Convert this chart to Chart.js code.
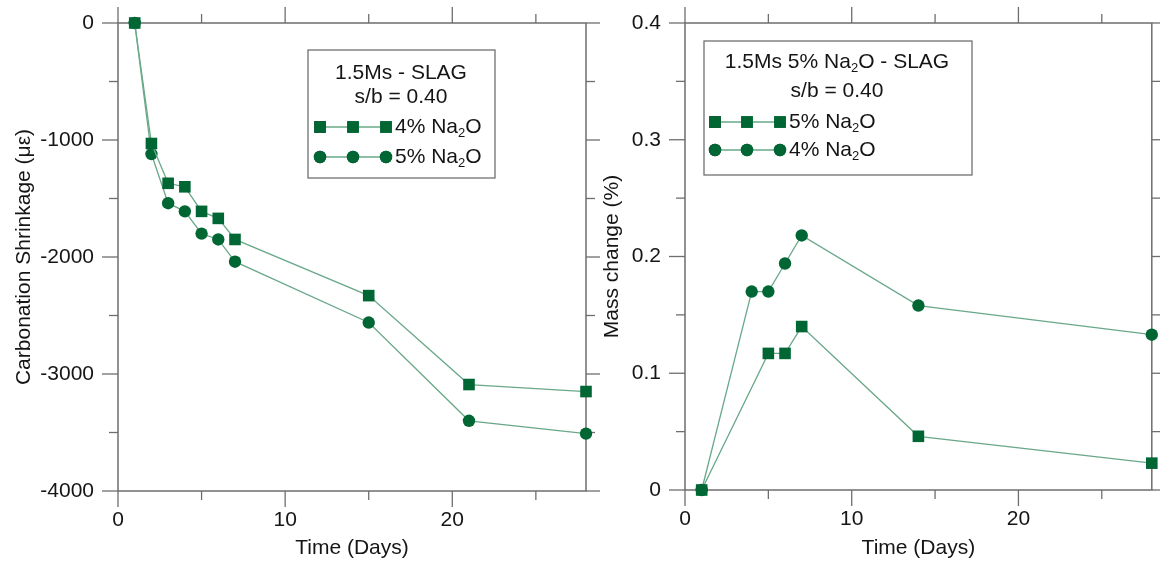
<!DOCTYPE html>
<html>
<head>
<meta charset="utf-8">
<script src="https://cdn.jsdelivr.net/npm/chart.js@4.4.1/dist/chart.umd.min.js"></script>
<style>
  html, body { margin: 0; padding: 0; background: #fff; }
  canvas { position: absolute; top: 0; }
  #shrink-chart { left: 0; }
  #mass-chart { left: 580px; }
</style>
</head>
<body>
<canvas id="shrink-chart" width="600" height="567"></canvas>
<canvas id="mass-chart" width="580" height="567"></canvas>
<script>
// Carbonation shrinkage (left panel)
const shrinkDays = [1, 2, 3, 4, 5, 6, 7, 15, 21, 28];
const shrink4 = [0, -1030, -1370, -1400, -1610, -1670, -1850, -2330, -3090, -3150];
const shrink5 = [0, -1120, -1540, -1610, -1800, -1850, -2040, -2560, -3400, -3510];

// Mass change (right panel)
const massDays5 = [1, 5, 6, 7, 14, 28];
const mass5 = [0, 0.117, 0.117, 0.140, 0.046, 0.023];
const massDays4 = [1, 4, 5, 6, 7, 14, 28];
const mass4 = [0, 0.170, 0.170, 0.194, 0.218, 0.158, 0.133];

// Legend text ("_2" means subscript 2)
const shrinkTitle = ['1.5Ms - SLAG', 's/b = 0.40'];
const shrinkLabels = ['4% Na_2O', '5% Na_2O'];
const massTitle = ['1.5Ms 5% Na_2O - SLAG', 's/b = 0.40'];
const massLabels = ['5% Na_2O', '4% Na_2O'];

const FONT = "'Liberation Sans', Arial, sans-serif";
const MARK = '#006633';
const LINE = '#6aa88a';
const AXIS = '#6e6e6e';
const TEXT = '#151515';

function toPoints(xs, ys) {
    return xs.map((x, i) => ({ x, y: ys[i] }));
}

// split "4% Na_2O" into normal / subscript pieces
function richParts(str) {
    const parts = [];
    str.split(/(_\d)/).forEach(p => {
        if (!p) return;
        if (p[0] === '_') parts.push({ t: p.slice(1), sub: true });
        else parts.push({ t: p, sub: false });
    });
    return parts;
}

function richWidth(ctx, str, size) {
    let w = 0;
    richParts(str).forEach(p => {
        ctx.font = (p.sub ? size * 0.62 : size) + 'px ' + FONT;
        w += ctx.measureText(p.t).width;
    });
    return w;
}

function drawRich(ctx, str, x, y, size) {
    ctx.textBaseline = 'middle';
    ctx.textAlign = 'left';
    richParts(str).forEach(p => {
        const s = p.sub ? size * 0.62 : size;
        ctx.font = s + 'px ' + FONT;
        ctx.fillText(p.t, x, p.sub ? y + size * 0.3 : y);
        x += ctx.measureText(p.t).width;
    });
}

// Frame round the plot area with outward ticks on all four sides
const framePlugin = {
    id: 'frame',
    beforeDatasetsDraw(chart, args, opts) {
        const { ctx, chartArea: a, scales: { x, y } } = chart;
        ctx.save();
        ctx.strokeStyle = AXIS;
        ctx.lineWidth = 1.5;
        ctx.strokeRect(a.left, a.top, a.right - a.left, a.bottom - a.top);
        ctx.lineWidth = 1.3;
        const line = (x1, y1, x2, y2) => {
            ctx.beginPath();
            ctx.moveTo(x1, y1);
            ctx.lineTo(x2, y2);
            ctx.stroke();
        };
        const isMajor = (v, major) => Math.abs(v / major - Math.round(v / major)) < 1e-6;

        let n = Math.round((x.max - x.min) / opts.xMinor);
        for (let i = 0; i <= n; i++) {
            const v = x.min + i * opts.xMinor;
            if (v > x.max + 1e-9) break;
            const px = x.getPixelForValue(v);
            const len = isMajor(v, opts.xMajor) ? 16 : 9;
            line(px, a.bottom, px, a.bottom + len);
            line(px, a.top, px, a.top - len);
        }
        n = Math.round((y.max - y.min) / opts.yMinor);
        for (let i = 0; i <= n; i++) {
            const v = y.min + i * opts.yMinor;
            const py = y.getPixelForValue(v);
            const len = isMajor(v, opts.yMajor) ? 16 : 9;
            line(a.left, py, a.left - len, py);
            line(a.right, py, a.right + len, py);
        }
        ctx.restore();
    }
};

// Boxed legend with title lines and marker samples
const boxLegendPlugin = {
    id: 'boxLegend',
    afterDraw(chart, args, opts) {
        const ctx = chart.ctx;
        const b = opts.box;
        ctx.save();
        ctx.fillStyle = '#fff';
        ctx.fillRect(b.x, b.y, b.w, b.h);
        ctx.strokeStyle = '#707070';
        ctx.lineWidth = 1.3;
        ctx.strokeRect(b.x, b.y, b.w, b.h);

        ctx.fillStyle = TEXT;
        opts.title.forEach((t, i) => {
            const w = richWidth(ctx, t, opts.size);
            drawRich(ctx, t, opts.cx - w / 2, opts.titleY[i], opts.size);
        });

        opts.labels.forEach((label, i) => {
            const ds = chart.data.datasets[i];
            const yy = opts.rowY[i];
            const xs = opts.markX;
            ctx.strokeStyle = LINE;
            ctx.lineWidth = 1.3;
            ctx.beginPath();
            ctx.moveTo(xs[0], yy);
            ctx.lineTo(xs[xs.length - 1], yy);
            ctx.stroke();
            xs.forEach(mx => {
                Chart.helpers.drawPoint(ctx, {
                    pointStyle: ds.pointStyle,
                    radius: ds.pointRadius,
                    rotation: 0,
                    borderWidth: 0
                }, mx, yy);
                ctx.fillStyle = MARK;
                ctx.fill();
            });
            ctx.fillStyle = TEXT;
            drawRich(ctx, label, opts.textX, yy, opts.size);
        });
        ctx.restore();
    }
};

function seriesStyle(style, radius) {
    return {
        showLine: true,
        tension: 0,
        borderColor: LINE,
        borderWidth: 1.3,
        pointStyle: style,
        pointRadius: radius,
        pointHoverRadius: radius,
        pointBackgroundColor: MARK,
        pointBorderWidth: 0,
        pointBorderColor: MARK,
        clip: false
    };
}

function axisFont() {
    return { family: FONT, size: 21 };
}

function makeChart(id, cfg) {
    return new Chart(document.getElementById(id), {
        type: 'scatter',
        data: { datasets: cfg.datasets },
        options: {
            responsive: false,
            animation: false,
            devicePixelRatio: 1,
            layout: { padding: { top: 23, right: cfg.padRight, left: 0, bottom: 0 } },
            plugins: {
                legend: { display: false },
                tooltip: { enabled: false },
                frame: cfg.frame,
                boxLegend: cfg.legend
            },
            scales: {
                x: {
                    type: 'linear',
                    min: 0,
                    max: 28,
                    afterFit: s => { s.height = cfg.xHeight; },
                    // tick marks are drawn by the frame plugin; tickLength only spaces the labels
                    grid: { display: false, drawTicks: true, tickLength: 17 },
                    border: { display: false },
                    ticks: {
                        stepSize: 10,
                        includeBounds: false,
                        padding: 0,
                        color: TEXT,
                        font: axisFont(),
                        maxRotation: 0,
                        callback: v => String(v)
                    },
                    title: {
                        display: true,
                        text: 'Time (Days)',
                        color: TEXT,
                        font: axisFont(),
                        padding: { top: 0, bottom: 6 }
                    }
                },
                y: {
                    type: 'linear',
                    min: cfg.yMin,
                    max: cfg.yMax,
                    afterFit: s => { s.width = cfg.yWidth; },
                    grid: { display: false, drawTicks: true, tickLength: 24 },
                    border: { display: false },
                    ticks: {
                        stepSize: cfg.yStep,
                        padding: 0,
                        color: TEXT,
                        font: axisFont(),
                        callback: v => String(+v.toFixed(2))
                    },
                    title: {
                        display: true,
                        text: cfg.yTitle,
                        color: TEXT,
                        font: axisFont(),
                        padding: { top: cfg.yTitlePad, bottom: 0 }
                    }
                }
            }
        },
        plugins: [framePlugin, boxLegendPlugin]
    });
}

function init() {
    makeChart('shrink-chart', {
        datasets: [
            Object.assign({ label: shrinkLabels[0], data: toPoints(shrinkDays, shrink4) }, seriesStyle('rect', 8.2)),
            Object.assign({ label: shrinkLabels[1], data: toPoints(shrinkDays, shrink5) }, seriesStyle('circle', 6.2))
        ],
        padRight: 14,
        xHeight: 76,
        yWidth: 118,
        yMin: -4000,
        yMax: 0,
        yStep: 1000,
        yTitle: 'Carbonation Shrinkage (με)',
        yTitlePad: 12,
        frame: { xMinor: 5, xMajor: 10, yMinor: 500, yMajor: 1000 },
        legend: {
            box: { x: 308, y: 50, w: 187, h: 128 },
            size: 21,
            cx: 401,
            title: shrinkTitle,
            titleY: [73, 97],
            labels: shrinkLabels,
            rowY: [127, 157],
            markX: [320, 353, 386],
            textX: 395
        }
    });

    makeChart('mass-chart', {
        datasets: [
            Object.assign({ label: massLabels[0], data: toPoints(massDays5, mass5) }, seriesStyle('rect', 8.2)),
            Object.assign({ label: massLabels[1], data: toPoints(massDays4, mass4) }, seriesStyle('circle', 6.2))
        ],
        padRight: 7,
        xHeight: 77,
        yWidth: 105,
        yMin: 0,
        yMax: 0.4,
        yStep: 0.1,
        yTitle: 'Mass change (%)',
        yTitlePad: 20,
        frame: { xMinor: 5, xMajor: 10, yMinor: 0.05, yMajor: 0.1 },
        legend: {
            box: { x: 124, y: 41, w: 268, h: 134 },
            size: 21,
            cx: 257,
            title: massTitle,
            titleY: [62, 91],
            labels: massLabels,
            rowY: [122, 150],
            markX: [135, 167, 200],
            textX: 209
        }
    });
}

window.onload = init;
</script>
</body>
</html>
